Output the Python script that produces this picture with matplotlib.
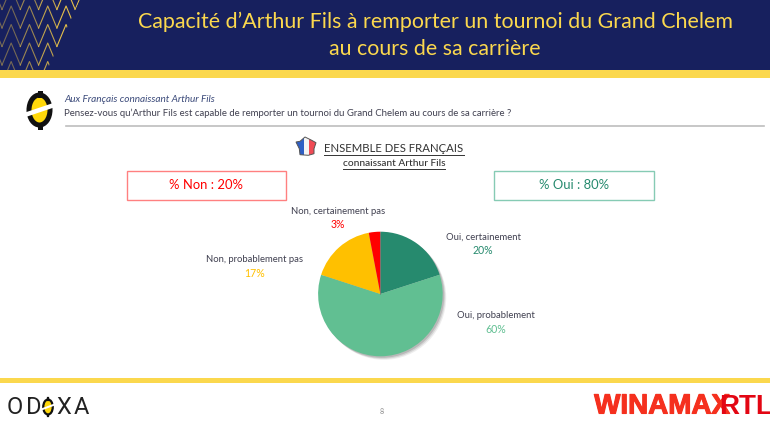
#!/usr/bin/env python3
"""Odoxa slide: Arthur Fils Grand Chelem pie, drawn on a full-page pixel canvas."""
import matplotlib
matplotlib.use("Agg")
import matplotlib.pyplot as plt
import matplotlib.patheffects as pe
from matplotlib.patches import Rectangle, Polygon, Ellipse

plt.rcParams["font.family"] = ["Lato", "DejaVu Sans"]

labels = ["Oui, certainement", "Oui, probablement", "Non, probablement pas", "Non, certainement pas"]
values = [20, 60, 17, 3]
colors = ["#268A6E", "#61BF92", "#FFC000", "#FF0000"]
pct_text = ["20%", "60%", "17%", "3%"]
title_lines = ["Capacité d’Arthur Fils à remporter un tournoi du Grand Chelem", "au cours de sa carrière"]
sample = "Aux Français connaissant Arthur Fils"
question = "Pensez-vous qu’Arthur Fils est capable de remporter un tournoi du Grand Chelem au cours de sa carrière ?"

W, H = 770, 426
NAVY, GOLD = "#17205E", "#FBD84E"
TXT = "#404050"

fig = plt.figure(figsize=(W / 100, H / 100), dpi=100)
bg = fig.add_axes([0, 0, 1, 1])
bg.set_xlim(0, W)
bg.set_ylim(H, 0)
bg.axis("off")

# ---- banner ----
bg.add_patch(Rectangle((0, 0), W, 70, fc=NAVY, ec="none"))
bg.add_patch(Rectangle((0, 70), W, 8, fc=GOLD, ec="none"))
bg.add_patch(Rectangle((0, 378), W, 5, fc=GOLD, ec="none"))
clip = Polygon([(0, 0), (80, 0), (47, 70), (0, 70)], transform=bg.transData, fc="none", ec="none")
bg.add_patch(clip)
for col in range(-1, 5):
    for row in range(-1, 5):
        x0, y0 = col * 18.3 + 2, row * 18.5 + 6
        ln, = bg.plot([x0, x0 + 9.15, x0 + 18.3], [y0 + 22, y0, y0 + 22], color="#E8C24A",
                      lw=0.8, alpha=min(1, 0.45 + max(col, 0) * 0.18))
        ln.set_clip_path(clip)
bg.text(435, 22, title_lines[0], color=GOLD, fontsize=15.4, ha="center", va="center")
bg.text(435, 49, title_lines[1], color=GOLD, fontsize=15.4, ha="center", va="center")


def logo(cx, cy, w, h, lw):
    # odoxa mark: yellow capsule crossed by a white slash
    bg.add_patch(Ellipse((cx, cy), w, h, fc="#FFD80A", ec="#111111", lw=lw, zorder=3))
    bg.plot([cx, cx], [cy - h / 2 - h * 0.08, cy - h / 2], color="#111111", lw=lw, zorder=3)
    bg.plot([cx, cx], [cy + h / 2, cy + h / 2 + h * 0.08], color="#111111", lw=lw, zorder=3)
    bg.plot([cx - w * 0.72, cx + w * 0.72], [cy + h * 0.17, cy - h * 0.17], color="white", lw=lw * 0.9, zorder=4)


logo(39.5, 110, 21, 30, 3.6)
bg.text(64, 100, sample, color="#3B4A7A", style="italic", fontsize=7.2, ha="left", va="center")
bg.text(64, 113.5, question, color=TXT, fontsize=6.93, ha="left", va="center")
bg.plot([66, 764], [126, 126], color="#BDBDBD", lw=1.2)

# ---- heading with flag ----
france = Polygon([(296, 142), (300, 141.3), (305, 137), (311.7, 140.3), (316, 142.7), (314, 148.7),
                  (314, 153.7), (308.3, 155.3), (300, 154.7), (299.3, 148.7)],
                 transform=bg.transData, fc="none", ec="#555555", lw=0.7, zorder=3)
bg.add_patch(france)
for x0, wd, fc in [(295, 9, "#2F5FC4"), (304, 4.5, "#F4F4F4"), (308.5, 9, "#F04B55")]:
    bg.add_patch(Rectangle((x0, 136), wd, 21, fc=fc, ec="none", clip_path=france))
bg.text(394, 148, "ENSEMBLE DES FRANÇAIS", color="#333333", fontsize=8.2, ha="center", va="center")
bg.plot([324, 464], [155, 155], color="#333333", lw=0.7)
bg.text(394, 163, "connaissant Arthur Fils", color="#333333", fontsize=7.3, ha="center", va="center", fontweight="medium")
bg.plot([343, 445], [169, 169], color="#333333", lw=0.7)

# ---- totals ----
bg.add_patch(Rectangle((126.5, 170.5), 159, 29, fc="white", ec="#FF8080", lw=1))
bg.text(206, 185, "% Non : 20%", color="#FF0000", fontsize=9.4, ha="center", va="center")
bg.add_patch(Rectangle((493.5, 170.5), 160, 29, fc="white", ec="#86CBB4", lw=1))
bg.text(574, 185, "% Oui : 80%", color="#268A6E", fontsize=9.4, ha="center", va="center")

# ---- pie ----
cx, cy, r = 380.4, 294, 62.3
for off, al in [(3.5, 0.10), (2.5, 0.16), (1.5, 0.22)]:
    bg.add_patch(Ellipse((cx + off, cy + off), 2 * r, 2 * r, fc="#555555", ec="none", alpha=al))
ax = fig.add_axes([(cx - r) / W, (H - cy - r) / H, 2 * r / W, 2 * r / H])
ax.patch.set_visible(False)
ax.pie(values, colors=colors, startangle=90, counterclock=False, radius=1)
ax.plot([0, 0], [0, 1], color="#777777", lw=0.5)
ax.set_xlim(-1, 1)
ax.set_ylim(-1, 1)
ax.set_aspect("equal")

label_pos = [(483, 237), (496, 316), (255, 260), (338, 211)]
for lab, pct, col, (lx, ly) in zip(labels, pct_text, colors, label_pos):
    bg.text(lx, ly, lab, color=TXT, fontsize=6.8, ha="center", va="center")
    bg.text(lx, ly + 13.5, pct, color=col, fontsize=7.6, ha="center", va="center")

# ---- footer ----
for ch, lx in [("O", 14.5), ("D", 33.5), ("X", 63.5), ("A", 81)]:
    bg.text(lx, 407, ch, color="#222222", fontsize=17, ha="center", va="center", family=["Roboto", "DejaVu Sans"])
logo(48, 407, 9.5, 15, 1.6)
bg.text(382, 412, "8", color="#888888", fontsize=5, ha="center", va="center")
narrow = ["Liberation Sans Narrow", "Liberation Sans", "DejaVu Sans"]
heavy = [pe.withStroke(linewidth=0.8, foreground="#F5301E")]
bg.text(662, 406.5, "WINAMAX", color="#F5301E", fontsize=20, fontweight="bold",
        ha="center", va="center", family=narrow, path_effects=heavy)
bg.text(746, 406.5, "RTL", color="#E30613", fontsize=20, fontweight="bold",
        ha="center", va="center", family=narrow)

fig.savefig("out.png", dpi=100)
